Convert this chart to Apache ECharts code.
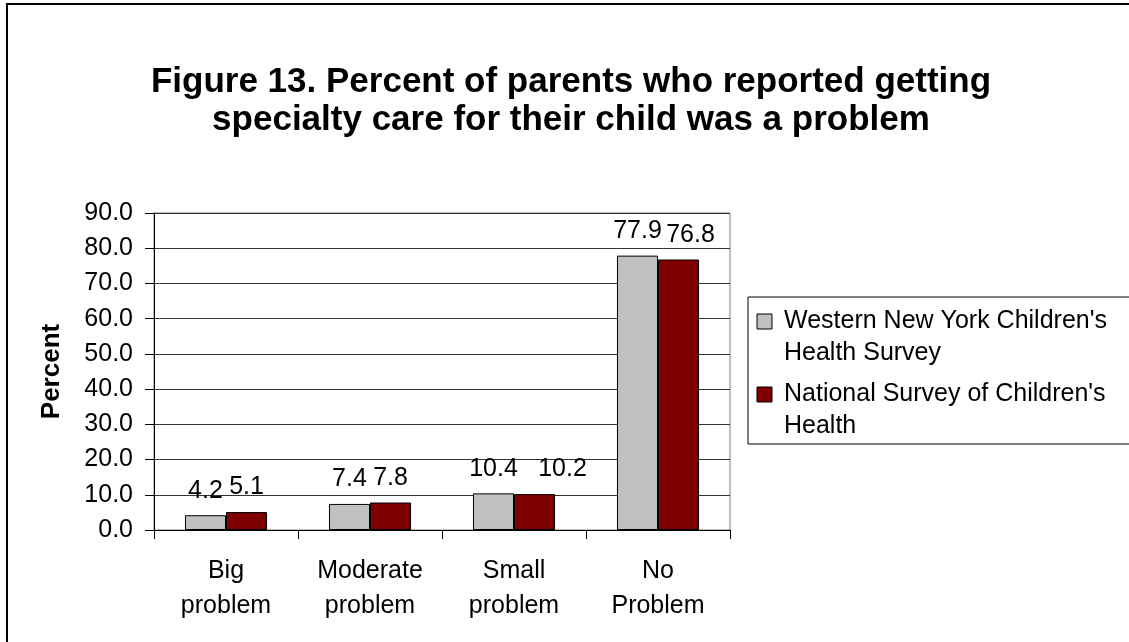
<!DOCTYPE html>
<html>
<head>
<meta charset="utf-8">
<style>
  html, body { margin: 0; padding: 0; background: #fff; }
  #chart { width: 1129px; height: 642px; }
</style>
<script src="https://cdn.jsdelivr.net/npm/echarts@6/dist/echarts.min.js"></script>
</head>
<body>
<div id="chart"></div>
<script>
// Survey answers and the percentages for each source
const categories = ['Big\nproblem', 'Moderate\nproblem', 'Small\nproblem', 'No\nProblem'];
const wnyValues = [4.2, 7.4, 10.4, 77.9];
const nationalValues = [5.1, 7.8, 10.2, 76.8];
const seriesNames = ["Western New York Children's\nHealth Survey", "National Survey of Children's\nHealth"];
const seriesColors = ['#c0c0c0', '#800000'];
const yTicks = { min: 0, max: 90, interval: 10 };

// Horizontal nudges (px) for value labels that were moved aside to stay readable
const nationalLabelNudge = [0, 0, 28, 12];

const FONT = '"Liberation Sans", Arial, sans-serif';
const TEXT_SIZE = 25;

const chart = echarts.init(document.getElementById('chart'), null, { renderer: 'canvas' });

function barSeries(name, values, color, nudges) {
  return {
    name: name,
    type: 'bar',
    data: values.map((v, i) => {
      const dx = nudges ? nudges[i] : 0;
      return dx ? { value: v, label: { offset: [dx, 0] } } : v;
    }),
    barGap: '0%',
    barCategoryGap: '43%',
    itemStyle: { color: color, borderColor: '#000', borderWidth: 1 },
    label: {
      show: true,
      position: 'top',
      distance: 12,
      color: '#000',
      fontFamily: FONT,
      fontSize: TEXT_SIZE,
      formatter: p => p.value.toFixed(1)
    }
  };
}

// Legend drawn as a boxed list, first line of each entry aligned with its swatch
const legendX = 748, legendY = 297, legendW = 420, legendH = 147;
const legendChildren = [
  { type: 'rect', shape: { x: 0, y: 0, width: legendW, height: legendH },
    style: { fill: '#fff', stroke: '#000', lineWidth: 1 } }
];
seriesNames.forEach((name, i) => {
  const top = 8 + i * 73;
  legendChildren.push({
    type: 'rect', shape: { x: 9, y: top + 9, width: 15, height: 15 },
    style: { fill: seriesColors[i], stroke: '#000', lineWidth: 1 }
  });
  legendChildren.push({
    type: 'text', x: 36, y: top,
    style: { text: name, fill: '#000', font: TEXT_SIZE + 'px ' + FONT, lineHeight: 32, verticalAlign: 'top' }
  });
});

chart.setOption({
  animation: false,
  backgroundColor: '#fff',
  title: {
    text: 'Figure 13. Percent of parents who reported getting\nspecialty care for their child was a problem',
    left: 566,
    top: 58,
    textAlign: 'center',
    textStyle: { fontFamily: FONT, fontWeight: 'bold', fontSize: 35, lineHeight: 38, color: '#000' }
  },
  grid: { left: 154, right: 399, top: 213, bottom: 112, show: true, borderColor: '#808080', borderWidth: 1, backgroundColor: 'transparent' },
  xAxis: {
    type: 'category',
    data: categories,
    axisLine: { lineStyle: { color: '#000', width: 1 } },
    axisTick: { show: true, length: 9, alignWithLabel: false, lineStyle: { color: '#000' } },
    axisLabel: { color: '#000', fontFamily: FONT, fontSize: TEXT_SIZE, lineHeight: 35, margin: 24, interval: 0 }
  },
  yAxis: {
    type: 'value',
    min: yTicks.min, max: yTicks.max, interval: yTicks.interval,
    name: 'Percent',
    nameLocation: 'middle',
    nameGap: 89,
    nameRotate: 90,
    nameTextStyle: { fontFamily: FONT, fontWeight: 'bold', fontSize: 26, color: '#000' },
    axisLine: { show: true, lineStyle: { color: '#000', width: 1 } },
    axisTick: { show: true, length: 9, lineStyle: { color: '#000' } },
    axisLabel: { color: '#000', fontFamily: FONT, fontSize: TEXT_SIZE, margin: 21, formatter: v => v.toFixed(1) },
    splitLine: { show: true, lineStyle: { color: '#333', width: 1 } }
  },
  series: [
    barSeries(seriesNames[0], wnyValues, seriesColors[0]),
    barSeries(seriesNames[1], nationalValues, seriesColors[1], nationalLabelNudge)
  ],
  graphic: [
    { type: 'rect', shape: { x: 7, y: 4, width: 1300, height: 800 },
      style: { fill: 'none', stroke: '#000', lineWidth: 2 }, z: 100, silent: true },
    { type: 'group', x: legendX, y: legendY, children: legendChildren }
  ]
});
</script>
</body>
</html>
